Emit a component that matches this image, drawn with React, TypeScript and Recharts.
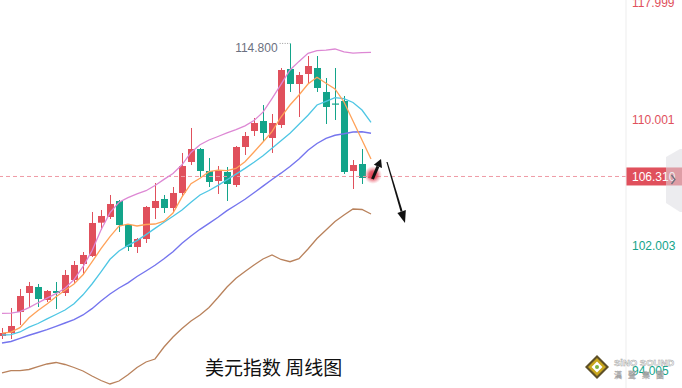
import React from "react";
import { ComposedChart, Bar, Line, XAxis, YAxis, ReferenceLine } from "recharts";

const RED = "#e0505c";
const GREEN = "#13a48a";
const LAST = 106.31;

// weekly OHLC, dollar index
const opens = [96.13, 96.321, 97.661, 98.874, 99.257, 98.427, 99.002, 98.874, 99.704, 100.725, 101.235, 103.36, 103.724, 104.745, 103.213, 101.809, 102.32, 104.298, 104.873, 104.298, 105.256, 107.234, 108.063, 106.659, 106.021, 106.596, 105.766, 108.191, 109.212, 109.85, 108.765, 109.595, 113.169, 112.211, 112.85, 113.233, 111.701, 110.967, 111.127, 106.659, 107.106, 106.21];
const highs = [96.64, 97.917, 99.129, 99.576, 99.448, 99.065, 99.576, 100.342, 100.916, 101.49, 104.043, 104.171, 105.128, 104.809, 103.22, 102.384, 104.426, 105.894, 105.128, 105.638, 107.808, 109.404, 108.127, 107.489, 106.979, 106.915, 108.255, 109.148, 110.042, 110.871, 110.297, 113.233, 114.8, 112.977, 113.998, 113.998, 112.594, 113.233, 111.446, 107.361, 108.063, 106.4];
const lows = [95.938, 95.938, 96.832, 97.98, 97.98, 98.3, 97.853, 98.682, 99.512, 100.023, 101.171, 102.894, 103.596, 102.767, 101.554, 101.427, 102.065, 103.596, 103.979, 104.043, 105.0, 107.042, 106.277, 105.638, 105.192, 104.745, 105.638, 107.681, 108.893, 108.51, 107.808, 109.404, 111.701, 110.105, 112.275, 111.701, 109.659, 109.914, 106.468, 105.511, 105.83, 106.15];
const closes = [96.321, 96.768, 98.682, 99.321, 98.491, 99.002, 98.874, 100.023, 100.661, 101.299, 103.341, 103.788, 104.554, 103.213, 101.809, 102.32, 104.362, 104.745, 104.298, 105.256, 106.979, 108.063, 106.659, 105.957, 106.659, 105.83, 108.191, 108.893, 109.723, 109.084, 109.723, 113.105, 112.211, 112.786, 113.36, 111.956, 110.744, 110.903, 106.596, 107.042, 106.213, 106.31];

// moving averages and bands
const maFast = [96.309, 96.372, 96.66, 97.291, 97.757, 98.178, 98.638, 99.046, 99.448, 100.035, 100.852, 101.701, 102.467, 103.137, 103.265, 103.15, 103.245, 103.277, 103.456, 103.979, 105.007, 105.849, 106.194, 106.615, 106.71, 106.679, 106.825, 107.253, 107.872, 108.51, 109.167, 110.105, 110.871, 111.509, 112.211, 112.639, 112.256, 111.892, 111.063, 109.85, 108.638, 107.425];
const maMid = [96.194, 96.213, 96.385, 96.691, 96.927, 97.221, 97.502, 97.789, 98.191, 98.759, 99.448, 100.22, 101.024, 101.554, 101.912, 102.218, 102.601, 102.996, 103.386, 103.769, 104.171, 104.668, 105.128, 105.415, 105.741, 106.104, 106.462, 106.825, 107.215, 107.629, 108.108, 108.593, 109.065, 109.64, 110.214, 110.871, 111.101, 111.337, 111.273, 111.031, 110.552, 109.767];
const maSlow = [95.683, 95.779, 95.983, 96.175, 96.353, 96.532, 96.749, 96.959, 97.17, 97.47, 97.872, 98.363, 98.81, 99.193, 99.525, 99.927, 100.278, 100.642, 101.063, 101.509, 102.046, 102.511, 102.939, 103.322, 103.705, 104.132, 104.49, 104.854, 105.268, 105.696, 106.117, 106.519, 106.947, 107.425, 107.98, 108.414, 108.74, 108.938, 109.033, 109.148, 109.167, 109.065];
const bandUpper = [97.578, 97.585, 97.68, 97.936, 98.248, 98.542, 98.829, 99.174, 99.723, 100.552, 101.573, 102.894, 103.998, 104.668, 104.962, 105.198, 105.402, 105.734, 106.123, 106.5, 107.055, 107.846, 108.338, 108.638, 108.861, 109.091, 109.301, 109.544, 109.876, 110.412, 111.28, 112.186, 113.105, 113.654, 114.171, 114.337, 114.375, 114.445, 114.26, 114.177, 114.209, 114.234];
const bandLower = [93.781, 93.915, 93.915, 93.992, 94.171, 94.343, 94.439, 94.311, 94.12, 93.896, 93.577, 93.29, 93.067, 93.258, 93.654, 94.12, 94.471, 94.662, 95.428, 96.066, 96.608, 97.087, 97.47, 97.949, 98.587, 99.257, 99.812, 100.246, 100.661, 101.044, 101.299, 101.012, 100.871, 101.063, 101.682, 102.352, 102.894, 103.437, 103.852, 104.234, 104.203, 103.915];

const yTicks = [117.999, 110.001, 102.003, 94.005];

const rows = opens.map((o, i) => ({
  i,
  open: o,
  high: highs[i],
  low: lows[i],
  close: closes[i],
  range: [lows[i], highs[i]],
  maFast: maFast[i],
  maMid: maMid[i],
  maSlow: maSlow[i],
  upper: bandUpper[i],
  lower: bandLower[i],
}));

const NUM_FONT = "'Liberation Sans', Arial, sans-serif";

function Candle(props: any) {
  const { x, y, width, height, payload } = props;
  if (!payload) return null;
  const { open, close, high, low } = payload;
  const color = close >= open ? RED : GREEN;
  const top = Math.min(y, y + height);
  const h = Math.abs(height);
  const py = (v: number) => top + ((high - v) / (high - low)) * h;
  const cx = Math.round(x + width / 2) + 0.5;
  const bTop = py(Math.max(open, close));
  const bBot = py(Math.min(open, close));
  return (
    <g>
      <line x1={cx} x2={cx} y1={top} y2={top + h} stroke={color} strokeWidth={1} />
      <rect x={cx - 3.5} y={bTop} width={7} height={Math.max(1.2, bBot - bTop)} fill={color} />
    </g>
  );
}

function AxisTick(props: any) {
  const { x, y, payload } = props;
  const v = payload.value as number;
  return (
    <text x={x} y={Math.max(y + 1.5, 13)} dy="0.35em" textAnchor="start" fontSize={12} fontFamily={NUM_FONT} fill={v > LAST ? RED : GREEN}>
      {v.toFixed(3)}
    </text>
  );
}

function PriceTag(props: any) {
  const vb = props.viewBox || {};
  const x0 = vb.x + vb.width;
  const y0 = vb.y;
  return (
    <g>
      <rect x={x0} y={y0 - 9} width={56} height={18} fill={RED} />
      <text x={x0 + 6} y={y0} dy="0.35em" fontSize={12} fontFamily={NUM_FONT} fill="#fff">
        {LAST.toFixed(3)}
      </text>
    </g>
  );
}

function HighTag(props: any) {
  const vb = props.viewBox || {};
  return (
    <text x={vb.x - 2} y={vb.y + 4.5} dy="0.35em" textAnchor="end" fontSize={12} fontFamily={NUM_FONT} fill="#6b7080">
      114.800
    </text>
  );
}

export default function App() {
  return (
    <div style={{ position: "absolute", left: 0, top: -10, width: 682, height: 398, background: "#fff", overflow: "hidden" }}>
      <ComposedChart width={682} height={398} data={rows} margin={{ top: 0, right: 0, bottom: 0, left: 0 }}>
        <XAxis type="number" dataKey="i" domain={[-0.222, 69.333]} hide allowDataOverflow />
        <YAxis
          orientation="right"
          width={56}
          domain={[92.811, 118.21]}
          ticks={yTicks}
          interval={0}
          allowDataOverflow
          axisLine={{ stroke: "#ededed" }}
          tickLine={false}
          tickSize={0}
          tickMargin={6}
          tick={<AxisTick />}
        />
        <ReferenceLine y={LAST} stroke="#ef9ba5" strokeDasharray="4 3" label={<PriceTag />} />
        <Bar dataKey="range" barSize={7} shape={<Candle />} isAnimationActive={false} />
        <Line type="linear" dataKey="upper" stroke="#dd88d4" strokeWidth={1.3} dot={false} activeDot={false} isAnimationActive={false} />
        <Line type="linear" dataKey="lower" stroke="#b9825c" strokeWidth={1.3} dot={false} activeDot={false} isAnimationActive={false} />
        <Line type="linear" dataKey="maSlow" stroke="#7575ee" strokeWidth={1.4} dot={false} activeDot={false} isAnimationActive={false} />
        <Line type="linear" dataKey="maMid" stroke="#4ec6e4" strokeWidth={1.3} dot={false} activeDot={false} isAnimationActive={false} />
        <Line type="linear" dataKey="maFast" stroke="#ffa259" strokeWidth={1.3} dot={false} activeDot={false} isAnimationActive={false} />
        <ReferenceLine
          segment={[{ x: 30.85, y: 114.8 }, { x: 32, y: 114.8 }]}
          stroke="#999"
          strokeDasharray="1 1.5"
          label={<HighTag />}
        />
      </ComposedChart>
      <svg width={682} height={398} style={{ position: "absolute", left: 0, top: 0, pointerEvents: "none" }}>
        <defs>
          <radialGradient id="glow">
            <stop offset="0" stopColor="#e33a4c" stopOpacity="1" />
            <stop offset="0.45" stopColor="#e5495a" stopOpacity="0.85" />
            <stop offset="1" stopColor="#f2909c" stopOpacity="0" />
          </radialGradient>
        </defs>
        <g transform="translate(0,10)">
          <circle cx={373} cy={175} r={9} fill="url(#glow)" />
          {/* up arrow */}
          <line x1={372.5} y1={179} x2={377.9} y2={166.4} stroke="#111" strokeWidth={3} />
          <polygon points="381,159 382,168.1 373.8,164.7" fill="#111" />
          {/* down arrow */}
          <polygon points="386.4,162 387.6,162 402.6,211.2 400.6,211.8" fill="#111" />
          <polygon points="405,223 405.8,210.1 397.4,212.9" fill="#111" />
          {/* collapse tab */}
          <polygon points="666,157 680,149 682,149 682,212 680,212 666,203" fill="#dcdce2" opacity={0.55} />
          <path d="M671.5,175 L675,179.5 L671.5,184" stroke="#6d7280" strokeWidth={1.3} fill="none" />
          {/* title */}
          <text x={205} y={368} dy="0.35em" fontSize={19} fontFamily="'Noto Sans CJK SC', sans-serif" fill="#111">
            美元指数 周线图
          </text>
          {/* watermark */}
          <polygon points="597,355 609,367 597,379 585,367" fill="#5e5028" />
          <polygon points="597,358 606,367 597,376 588,367" fill="#c9a61c" />
          <polygon points="597,361.5 602.5,367 597,372.5 591.5,367" fill="#fff" />
          <circle cx={597} cy={367} r={2} fill="#7cb342" />
          <text x={614} y={363} dy="0.35em" fontSize={9.5} fontWeight="bold" fontFamily={NUM_FONT} fill="#fff" stroke="#9a9a9a" strokeWidth={0.5} opacity={0.9}>
            SiNO SOUND
          </text>
          <text x={614} y={375} dy="0.35em" fontSize={8} fontFamily="'Noto Sans CJK TC', sans-serif" fill="#fff" stroke="#9a9a9a" strokeWidth={0.4} opacity={0.9} letterSpacing={6}>
            漢聲集團
          </text>
        </g>
      </svg>
    </div>
  );
}
